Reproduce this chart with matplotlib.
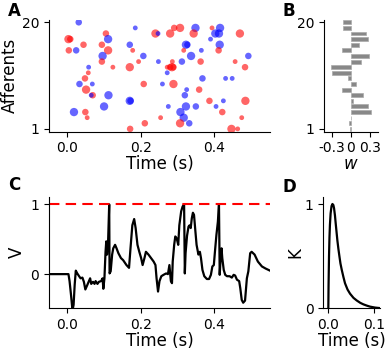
import matplotlib
matplotlib.use("Agg")
import matplotlib.pyplot as plt
import numpy as np

plt.rcParams['font.family'] = ['DejaVu Sans']
plt.rcParams['axes.unicode_minus'] = False

# ---------------- Data ----------------
# Panel A: input spikes (time in s, afferent index, pattern colour, marker size class)
spike_times = [0.031, 0.003, 0.008, 0.004, 0.024, 0.044, 0.058, 0.057, 0.048, 0.033,
               0.051, 0.068, 0.069, 0.065, 0.018, 0.049, 0.054, 0.105, 0.111, 0.094,
               0.111, 0.096, 0.094, 0.124, 0.112, 0.100, 0.185, 0.170, 0.178, 0.170,
               0.170, 0.172, 0.194, 0.207, 0.208, 0.171, 0.211, 0.240, 0.247, 0.248,
               0.280, 0.291, 0.307, 0.272, 0.272, 0.280, 0.285, 0.289, 0.286, 0.259,
               0.289, 0.254, 0.275, 0.312, 0.323, 0.327, 0.337, 0.317, 0.325, 0.320,
               0.323, 0.308, 0.317, 0.307, 0.332, 0.349, 0.344, 0.365, 0.363, 0.368,
               0.359, 0.350, 0.394, 0.390, 0.403, 0.413, 0.416, 0.415, 0.412, 0.387,
               0.405, 0.425, 0.422, 0.447, 0.464, 0.431, 0.449, 0.457, 0.470, 0.493,
               0.484, 0.485, 0.475]
spike_afferents = [20, 17, 17, 15, 15, 16, 12, 11, 10, 9,
                   8, 9, 7, 7, 4, 4, 3, 18, 17, 16,
                   15, 14, 13, 12, 7, 5, 19, 16, 15, 12,
                   6, 6, 13, 14, 9, 1, 2, 18, 18, 13,
                   18, 19, 19, 11, 12, 12, 12, 12, 13, 9,
                   9, 3, 5, 13, 16, 16, 14, 15, 8, 7,
                   5, 4, 3, 2, 2, 19, 18, 15, 13, 10,
                   8, 5, 19, 17, 18, 18, 19, 16, 15, 6,
                   5, 6, 4, 1, 1, 10, 10, 13, 18, 14,
                   12, 6, 3]
spike_pattern = ['b', 'r', 'r', 'r', 'b', 'r', 'b', 'r', 'r', 'b',
                 'r', 'b', 'r', 'b', 'b', 'r', 'r', 'r', 'b', 'r',
                 'r', 'b', 'r', 'r', 'b', 'b', 'b', 'b', 'r', 'r',
                 'b', 'b', 'r', 'b', 'r', 'r', 'r', 'r', 'b', 'b',
                 'r', 'r', 'r', 'b', 'r', 'r', 'r', 'r', 'r', 'b',
                 'r', 'r', 'b', 'b', 'b', 'b', 'b', 'r', 'b', 'b',
                 'b', 'b', 'b', 'r', 'b', 'b', 'r', 'b', 'r', 'b',
                 'r', 'b', 'r', 'b', 'b', 'b', 'b', 'b', 'r', 'r',
                 'b', 'b', 'r', 'r', 'r', 'b', 'b', 'r', 'r', 'b',
                 'r', 'r', 'r']
spike_sizeclass = [2, 3, 2, 2, 2, 2, 1, 1, 2, 2,
                   3, 1, 2, 1, 3, 2, 1, 2, 3, 2,
                   3, 3, 2, 1, 3, 3, 1, 2, 1, 3,
                   3, 2, 1, 2, 2, 2, 2, 3, 1, 1,
                   3, 2, 3, 1, 1, 2, 3, 2, 1, 1,
                   3, 1, 1, 2, 3, 2, 3, 1, 1, 2,
                   3, 3, 3, 3, 2, 3, 3, 1, 2, 2,
                   2, 2, 1, 1, 3, 3, 3, 3, 2, 2,
                   1, 1, 2, 3, 1, 1, 1, 1, 3, 2,
                   2, 3, 1]

# Panel B: synaptic weights per afferent
afferents = list(range(1, 21))
weights = [-0.01, -0.03, 0.01, 0.33, 0.27, 0.04, 0.20, -0.14, 0.08, -0.04,
           -0.30, -0.31, 0.17, 0.29, -0.14, 0.13, 0.27, 0.25, -0.13, -0.13]

# Panel C: membrane potential trace
v_time = [-0.050, 0.003, 0.006, 0.010, 0.014, 0.017, 0.020, 0.023, 0.027, 0.032,
          0.036, 0.041, 0.045, 0.049, 0.054, 0.058, 0.062, 0.065, 0.070, 0.074,
          0.077, 0.082, 0.086, 0.092, 0.096, 0.098, 0.101, 0.104, 0.106, 0.108,
          0.111, 0.114, 0.115, 0.118, 0.122, 0.125, 0.130, 0.134, 0.139, 0.146,
          0.152, 0.161, 0.168, 0.172, 0.177, 0.182, 0.186, 0.191, 0.196, 0.201,
          0.205, 0.210, 0.214, 0.221, 0.228, 0.235, 0.240, 0.243, 0.247, 0.251,
          0.256, 0.262, 0.269, 0.274, 0.278, 0.282, 0.285, 0.287, 0.291, 0.294,
          0.298, 0.302, 0.305, 0.310, 0.314, 0.318, 0.320, 0.322, 0.326, 0.330,
          0.333, 0.336, 0.339, 0.342, 0.345, 0.349, 0.352, 0.357, 0.361, 0.364,
          0.368, 0.373, 0.380, 0.386, 0.391, 0.395, 0.399, 0.402, 0.406, 0.410,
          0.413, 0.415, 0.417, 0.420, 0.422, 0.426, 0.430, 0.435, 0.442, 0.448,
          0.453, 0.457, 0.462, 0.468, 0.471, 0.475, 0.479, 0.484, 0.489, 0.493,
          0.498, 0.502, 0.510, 0.519, 0.530, 0.540, 0.552]
v_value = [0.00, 0.00, -0.10, -0.30, -0.52, -0.44, -0.15, 0.05, 0.01, -0.03,
           -0.06, -0.05, -0.11, -0.22, -0.16, -0.11, -0.06, -0.14, -0.11, -0.14,
           -0.10, -0.14, -0.11, -0.10, -0.06, -0.21, -0.06, 0.32, 0.47, 0.28,
           0.47, 1.00, 0.01, 0.04, 0.28, 0.37, 0.42, 0.37, 0.30, 0.23,
           0.20, 0.13, 0.09, 0.37, 0.70, 0.79, 0.66, 0.42, 0.32, 0.23,
           0.13, 0.23, 0.32, 0.28, 0.23, 0.18, 0.13, -0.06, -0.25, -0.10,
           -0.03, -0.01, 0.01, 0.00, 0.13, -0.10, -0.13, 0.18, 0.42, 0.54,
           0.51, 0.42, 0.70, 0.90, 0.97, 1.00, 0.01, 0.30, 0.55, 0.68,
           0.70, 0.66, 0.80, 0.88, 0.85, 0.60, 0.42, 0.28, 0.32, 0.23,
           0.06, -0.03, -0.07, -0.07, -0.01, 0.11, 0.13, 0.32, 0.56, 0.75,
           1.00, -0.01, 0.18, 0.37, 0.23, 0.06, -0.01, -0.03, -0.03, -0.05,
           -0.01, -0.02, -0.08, -0.10, -0.20, -0.37, -0.41, -0.38, -0.06, 0.04,
           0.30, 0.32, 0.28, 0.18, 0.11, 0.08, 0.05]
threshold = 1.0

# Panel D: PSP kernel
k_time = [0.0, 0.0005, 0.0015, 0.0025, 0.0035, 0.0050, 0.0070, 0.0090, 0.0110, 0.0125,
          0.0145, 0.0162, 0.0180, 0.0198, 0.0220, 0.0242, 0.0265, 0.0293, 0.0330, 0.0365,
          0.0420, 0.0475, 0.0550, 0.0621, 0.0700, 0.0766, 0.0840, 0.0912, 0.1020, 0.1130]
k_value = [0.0, 0.22, 0.50, 0.68, 0.80, 0.91, 0.98, 1.00, 0.99, 0.96,
           0.89, 0.81, 0.73, 0.65, 0.57, 0.50, 0.43, 0.37, 0.30, 0.24,
           0.18, 0.14, 0.10, 0.075, 0.052, 0.038, 0.026, 0.016, 0.007, 0.002]

# ---------------- Figure ----------------
W, H = 391, 350
fig = plt.figure(figsize=(W / 100, H / 100), dpi=100)


def px_axes(l, t, r, b):
    return fig.add_axes([l / W, 1 - b / H, (r - l) / W, (b - t) / H])


def style(ax):
    ax.spines['top'].set_visible(False)
    ax.spines['right'].set_visible(False)
    ax.tick_params(labelsize=10)


LAB = 12

# A
axA = px_axes(49, 19.5, 270, 131.7)
cmap = {'r': (1, 0, 0, 0.6), 'b': (0, 0, 1, 0.6)}
smap = {1: 12, 2: 22, 3: 36}
axA.scatter(spike_times, spike_afferents,
            c=[cmap[p] for p in spike_pattern],
            s=[smap[k] for k in spike_sizeclass], linewidths=0)
axA.set_xlim(-0.05, 0.552)
axA.set_ylim(0.5, 20.5)
axA.set_yticks([1, 20])
axA.set_xticks([0.0, 0.2, 0.4])
axA.set_ylabel('Afferents', fontsize=LAB, labelpad=2)
axA.set_xlabel('Time (s)', fontsize=LAB, labelpad=0)
style(axA)

# B
axB = px_axes(324, 19.5, 378, 131.7)
axB.barh(afferents, weights, height=0.7, color='#888888', edgecolor='#aaaaaa', linewidth=0.5)
axB.set_xlim(-0.43, 0.435)
axB.set_ylim(0.5, 20.5)
axB.set_yticks([1, 20])
axB.set_xticks([-0.3, 0, 0.3])
axB.set_xticklabels(['-0.3', '0', '0.3'])
axB.set_xlabel('$w$', fontsize=LAB, labelpad=0)
style(axB)

# C
axC = px_axes(49, 196.7, 270, 308.3)
axC.plot(v_time, v_value, color='black', lw=1.6)
axC.axhline(threshold, color='red', lw=1.5, linestyle=(0, (5, 3)))
axC.set_xlim(-0.05, 0.552)
axC.set_ylim(-0.49, 1.11)
axC.set_yticks([0, 1])
axC.set_xticks([0.0, 0.2, 0.4])
axC.set_ylabel('V', fontsize=LAB, labelpad=3)
axC.set_xlabel('Time (s)', fontsize=LAB, labelpad=0)
style(axC)

# D
axD = px_axes(323.3, 196.7, 380, 308.3)
axD.plot(k_time, k_value, color='black', lw=1.6)
axD.set_xlim(-0.011, 0.113)
axD.set_ylim(0, 1.07)
axD.set_yticks([0, 1])
axD.set_xticks([0.0, 0.1])
axD.set_ylabel('K', fontsize=LAB, labelpad=0)
axD.set_xlabel('Time (s)', fontsize=LAB, labelpad=0)
style(axD)

for lab, x, y in [('A', 8, 2), ('B', 283, 2), ('C', 8, 176), ('D', 283, 178)]:
    fig.text(x / W, 1 - y / H, lab, fontsize=12, fontweight='bold', va='top', ha='left')

fig.savefig('out.png', dpi=100)
